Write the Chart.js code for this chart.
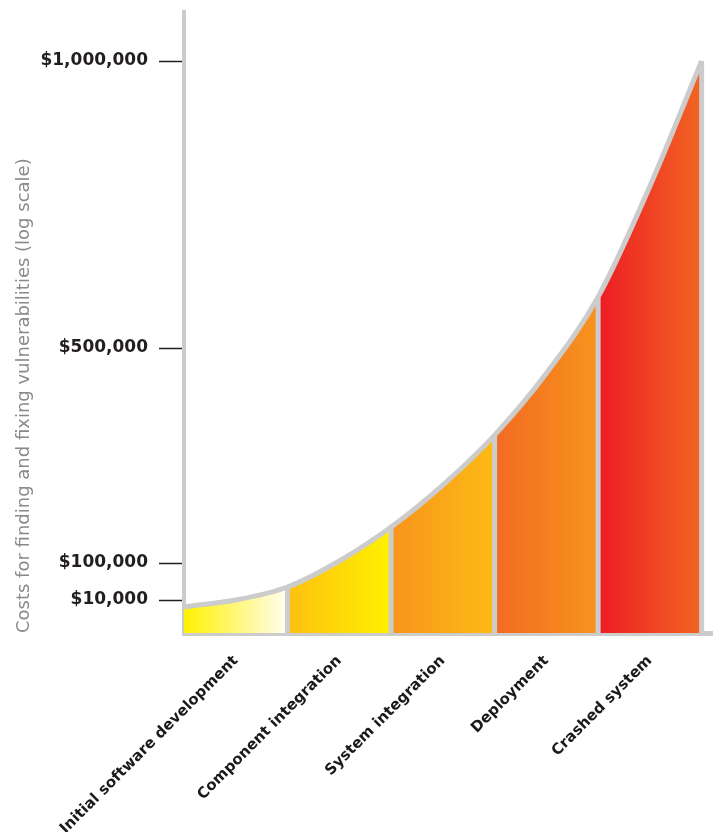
<!DOCTYPE html>
<html>
<head>
<meta charset="utf-8">
<script src="https://cdn.jsdelivr.net/npm/chart.js@4/dist/chart.umd.min.js"></script>
<style>
  html, body { margin: 0; padding: 0; background: #fff; }
  #wrap { width: 714px; height: 832px; position: relative; }
</style>
</head>
<body>
<div id="wrap"><canvas id="costChart"></canvas></div>
<script>
// lifecycle stages (one coloured band each)
const stages = ['Initial software development', 'Component integration', 'System integration', 'Deployment', 'Crashed system'];

// the cost curve (x in stage units, y in dollars)
const curvePos = [0, 0.5, 1, 1.5, 2, 2.5, 3, 3.5, 4, 4.5, 5];
const curveCost = [7900, 10000, 41600, 103700, 167000, 245000, 338000, 453000, 589000, 782000, 1000000];

// y axis ticks
const tickValues = [10000, 100000, 500000, 1000000];
const tickLabels = ['$10,000', '$100,000', '$500,000', '$1,000,000'];

// band colours, left -> right
const bandColors = [
    ['#fff200', '#fffdf0'],
    ['#fdc010', '#fff100'],
    ['#f7941d', '#fdbb14'],
    ['#f26a22', '#f7941d'],
    ['#ed1c24', '#f26522']
];
const GRAY = '#cccccc';

// the original axis is stretched at the bottom, so use a piecewise scale
const yStops = [0, 10000, 100000, 500000, 1000000, 1085000];
const yStopHeights = [0, 33, 70, 285, 572, 621];

function valueToDecimal(v) {
    const top = yStopHeights[yStopHeights.length - 1];
    for (let i = 1; i < yStops.length; i++) {
        if (v <= yStops[i] || i === yStops.length - 1) {
            const t = (v - yStops[i - 1]) / (yStops[i] - yStops[i - 1]);
            return (yStopHeights[i - 1] + t * (yStopHeights[i] - yStopHeights[i - 1])) / top;
        }
    }
    return 0;
}

function decimalToValue(d) {
    const h = d * yStopHeights[yStopHeights.length - 1];
    for (let i = 1; i < yStops.length; i++) {
        if (h <= yStopHeights[i] || i === yStops.length - 1) {
            const t = (h - yStopHeights[i - 1]) / (yStopHeights[i] - yStopHeights[i - 1]);
            return yStops[i - 1] + t * (yStops[i] - yStops[i - 1]);
        }
    }
    return 0;
}

class StretchedScale extends Chart.LinearScale {
    getPixelForValue(value) {
        if (value === null || value === undefined) return NaN;
        return this.getPixelForDecimal(valueToDecimal(value));
    }
    getValueForPixel(pixel) {
        return decimalToValue(this.getDecimalForPixel(pixel));
    }
}
StretchedScale.id = 'stretched';
StretchedScale.defaults = Chart.LinearScale.defaults;
Chart.register(StretchedScale);

// one gradient with hard steps, so every stage gets its own band
function bandGradient(context) {
    const chart = context.chart;
    if (!chart.chartArea) return bandColors[0][0];
    const xs = chart.scales.x;
    const n = stages.length;
    const g = chart.ctx.createLinearGradient(xs.getPixelForValue(0), 0, xs.getPixelForValue(n), 0);
    bandColors.forEach((c, i) => {
        g.addColorStop(i / n, c[0]);
        g.addColorStop((i + 1) / n, c[1]);
    });
    return g;
}

const curvePoints = curvePos.map((x, k) => ({ x: x, y: curveCost[k] }));

const datasets = [];

// gray outline along the curve
datasets.push({
    label: 'curve',
    data: curvePoints,
    borderColor: GRAY,
    borderWidth: 5,
    pointRadius: 0,
    fill: false,
    cubicInterpolationMode: 'monotone',
    order: 1
});

// gray dividers between the bands
for (let i = 1; i <= stages.length; i++) {
    const k = curvePos.indexOf(i);
    datasets.push({
        label: 'divider ' + i,
        data: [{ x: i, y: 0 }, { x: i, y: curveCost[k] }],
        borderColor: GRAY,
        borderWidth: 5,
        pointRadius: 0,
        fill: false,
        order: 2
    });
}

// coloured area
datasets.push({
    label: 'cost',
    data: curvePoints,
    fill: 'origin',
    backgroundColor: bandGradient,
    borderWidth: 0,
    pointRadius: 0,
    cubicInterpolationMode: 'monotone',
    order: 3
});

const ctx = document.getElementById('costChart').getContext('2d');
new Chart(ctx, {
    type: 'line',
    data: { datasets: datasets },
    options: {
        responsive: true,
        maintainAspectRatio: false,
        animation: false,
        layout: { padding: { top: 12, right: 2, bottom: 0, left: 0 } },
        plugins: {
            legend: { display: false },
            tooltip: { enabled: false }
        },
        scales: {
            x: {
                type: 'linear',
                min: 0,
                max: 5.1,
                afterBuildTicks: scale => {
                    scale.ticks = stages.map((s, i) => ({ value: i + 0.5 }));
                },
                afterFit: scale => { scale.height = 199; },
                grid: { display: false, drawTicks: false },
                border: { display: true, color: GRAY, width: 5 },
                ticks: {
                    autoSkip: false,
                    minRotation: 45,
                    maxRotation: 45,
                    padding: 19,
                    color: '#1a1a1a',
                    font: { family: 'DejaVu Sans', size: 15, weight: 'bold' },
                    callback: (value, index) => stages[index]
                }
            },
            y: {
                type: 'stretched',
                min: 0,
                max: 1085000,
                afterBuildTicks: scale => {
                    scale.ticks = tickValues.map(v => ({ value: v }));
                },
                afterFit: scale => {
                    scale.width = 184;
                    scale.paddingTop = 0;
                    scale.paddingBottom = 0;
                },
                grid: {
                    drawOnChartArea: false,
                    drawTicks: true,
                    tickLength: 25,
                    tickColor: '#231f20',
                    tickWidth: 1.5
                },
                border: { display: true, color: GRAY, width: 4 },
                ticks: {
                    autoSkip: false,
                    padding: 11,
                    color: '#231f20',
                    font: { family: 'DejaVu Sans', size: 17, weight: 'bold' },
                    callback: (value, index) => tickLabels[index]
                },
                title: {
                    display: true,
                    text: 'Costs for finding and fixing vulnerabilities (log scale)',
                    align: 'start',
                    color: '#8a8a8a',
                    padding: { top: 14, bottom: 0 },
                    font: { family: 'DejaVu Sans', size: 18 }
                }
            }
        }
    }
});
</script>
</body>
</html>
